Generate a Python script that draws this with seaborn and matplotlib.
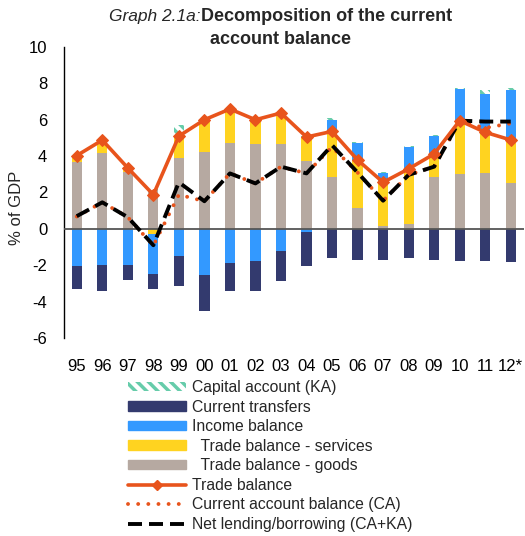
import numpy as np
import matplotlib.pyplot as plt
from matplotlib.lines import Line2D
from matplotlib.patches import Patch
import seaborn as sns

# values (% of GDP)
years = ["95", "96", "97", "98", "99", "00", "01", "02", "03", "04",
         "05", "06", "07", "08", "09", "10", "11", "12*"]
goods = [3.66, 4.15, 3.15, 2.15, 3.90, 4.21, 4.72, 4.65, 4.69, 3.71,
         2.84, 1.13, 0.14, 0.27, 2.84, 3.02, 3.08, 2.51]
services = [0.37, 0.73, 0.20, -0.27, 1.20, 1.79, 1.87, 1.35, 1.68, 1.34,
            2.52, 2.66, 2.42, 3.03, 1.28, 2.93, 2.23, 2.38]
income = [-2.05, -1.98, -1.98, -2.20, -1.47, -2.53, -1.85, -1.78, -1.19, -0.15,
          0.60, 0.93, 0.52, 1.22, 1.01, 1.74, 2.11, 2.75]
transfers = [-1.28, -1.41, -0.81, -0.83, -1.68, -2.01, -1.59, -1.66, -1.69, -1.88,
             -1.60, -1.70, -1.70, -1.60, -1.70, -1.76, -1.76, -1.83]
capital = [0.03, 0.03, 0.03, 0.05, 0.60, 0.03, 0.03, 0.03, 0.03, 0.03,
           0.15, 0.03, 0.03, 0.03, 0.03, 0.05, 0.20, 0.08]
trade_balance = [4.03, 4.88, 3.35, 1.88, 5.10, 6.00, 6.59, 6.00, 6.37, 5.05,
                 5.36, 3.79, 2.56, 3.30, 4.12, 5.95, 5.31, 4.89]
current_account = [0.68, 1.46, 0.64, -0.92, 1.88, 1.52, 3.05, 2.50, 3.42, 3.05,
                   4.50, 3.10, 1.55, 2.97, 3.42, 5.90, 5.55, 5.80]
net_lending = [0.70, 1.46, 0.64, -0.90, 2.56, 1.52, 3.05, 2.50, 3.42, 3.05,
               4.60, 3.10, 1.55, 2.97, 3.42, 5.95, 5.90, 5.90]

C_GOODS = "#b6a9a1"
C_SERV = "#ffd320"
C_INC = "#3399ff"
C_TRANS = "#333a6e"
C_CAP = "#66ccaa"
C_TRADE = "#e8541c"

sns.set_style("white")
plt.rcParams["font.family"] = ["Liberation Sans", "DejaVu Sans"]
plt.rcParams["axes.unicode_minus"] = False
plt.rcParams["hatch.color"] = C_CAP
plt.rcParams["hatch.linewidth"] = 2.5

fig = plt.figure(figsize=(5.25, 5.36), dpi=100)
ax = fig.add_axes([64 / 525, 1 - 338 / 536, 459.5 / 525, 291 / 536])

# stacked bars: positives build up from 0, negatives build down from 0
n = len(years)
pos_base = np.zeros(n)
neg_base = np.zeros(n)
layers = [
    (goods, dict(color=C_GOODS)),
    (services, dict(color=C_SERV)),
    (income, dict(color=C_INC)),
    (transfers, dict(color=C_TRANS)),
    (capital, dict(color="white", edgecolor=C_CAP, hatch="\\\\\\")),
]
for vals, style in layers:
    v = np.array(vals)
    bottom = np.where(v >= 0, pos_base, neg_base)
    sns.barplot(x=years, y=v, order=years, bottom=bottom, width=0.4,
                saturation=1, errorbar=None, linewidth=0, ax=ax, **style)
    pos_base += np.clip(v, 0, None)
    neg_base += np.clip(v, None, 0)

pos = np.arange(n)
ax.axhline(0, color="#555555", lw=1.3, zorder=3)
sns.lineplot(x=pos, y=current_account, ax=ax, color=C_TRADE, lw=2.8,
             linestyle=(0, (0.01, 2.6)), dash_capstyle="round", zorder=4)
sns.lineplot(x=pos, y=net_lending, ax=ax, color="black", lw=2.8,
             linestyle=(0, (3.6, 1.8)), zorder=5)
sns.lineplot(x=pos, y=trade_balance, ax=ax, color=C_TRADE, lw=2.6,
             marker="D", markersize=6, mec=C_TRADE, mfc=C_TRADE, zorder=6)

ax.set_xlim(-0.5, n - 0.5)
ax.set_ylim(-6, 10)
ax.set_yticks(range(-6, 11, 2))
ax.set_xticks(pos)
ax.set_xticklabels(years)
ax.set_xlabel("")
ax.set_ylabel("")
ax.tick_params(axis="both", length=0, labelsize=12, colors="black")
ax.tick_params(axis="x", pad=15)
ax.tick_params(axis="y", pad=12)
sns.despine(ax=ax, bottom=True)
ax.spines["left"].set_color("black")
ax.spines["left"].set_linewidth(1.0)

fig.text(17 / 525, 1 - 208 / 536, "% of GDP", rotation=90, fontsize=12,
         ha="center", va="center")

# title: italic prefix + bold text
fig.text(201 / 525, 1 - 21 / 536, "Graph 2.1a:", fontsize=12.5, style="italic",
         ha="right", va="baseline")
fig.text(201 / 525, 1 - 21 / 536, "Decomposition of the current", fontsize=13,
         weight="bold", ha="left", va="baseline")
fig.text(281 / 525, 1 - 43.5 / 536, "account balance", fontsize=13,
         weight="bold", ha="center", va="baseline")

handles = [
    Patch(facecolor="white", edgecolor=C_CAP, hatch="\\\\\\", lw=0),
    Patch(color=C_TRANS),
    Patch(color=C_INC),
    Patch(color=C_SERV),
    Patch(color=C_GOODS),
    Line2D([], [], color=C_TRADE, lw=2.6, marker="D", markersize=5),
    Line2D([], [], color=C_TRADE, lw=2.8, linestyle=(0, (0.01, 2.6)),
           dash_capstyle="round"),
    Line2D([], [], color="black", lw=2.8, linestyle=(0, (3.6, 1.8))),
]
labels = ["Capital account (KA)", "Current transfers", "Income balance",
          "  Trade balance - services", "  Trade balance - goods",
          "Trade balance", "Current account balance (CA)",
          "Net lending/borrowing (CA+KA)"]
fig.legend(handles, labels, loc="upper left",
           bbox_to_anchor=(128 / 525, 1 - 380 / 536), frameon=False,
           fontsize=11.3, handlelength=3.7, handleheight=0.55,
           handletextpad=0.4, labelspacing=0.29, borderpad=0, borderaxespad=0)

fig.savefig("out.png", dpi=100)
